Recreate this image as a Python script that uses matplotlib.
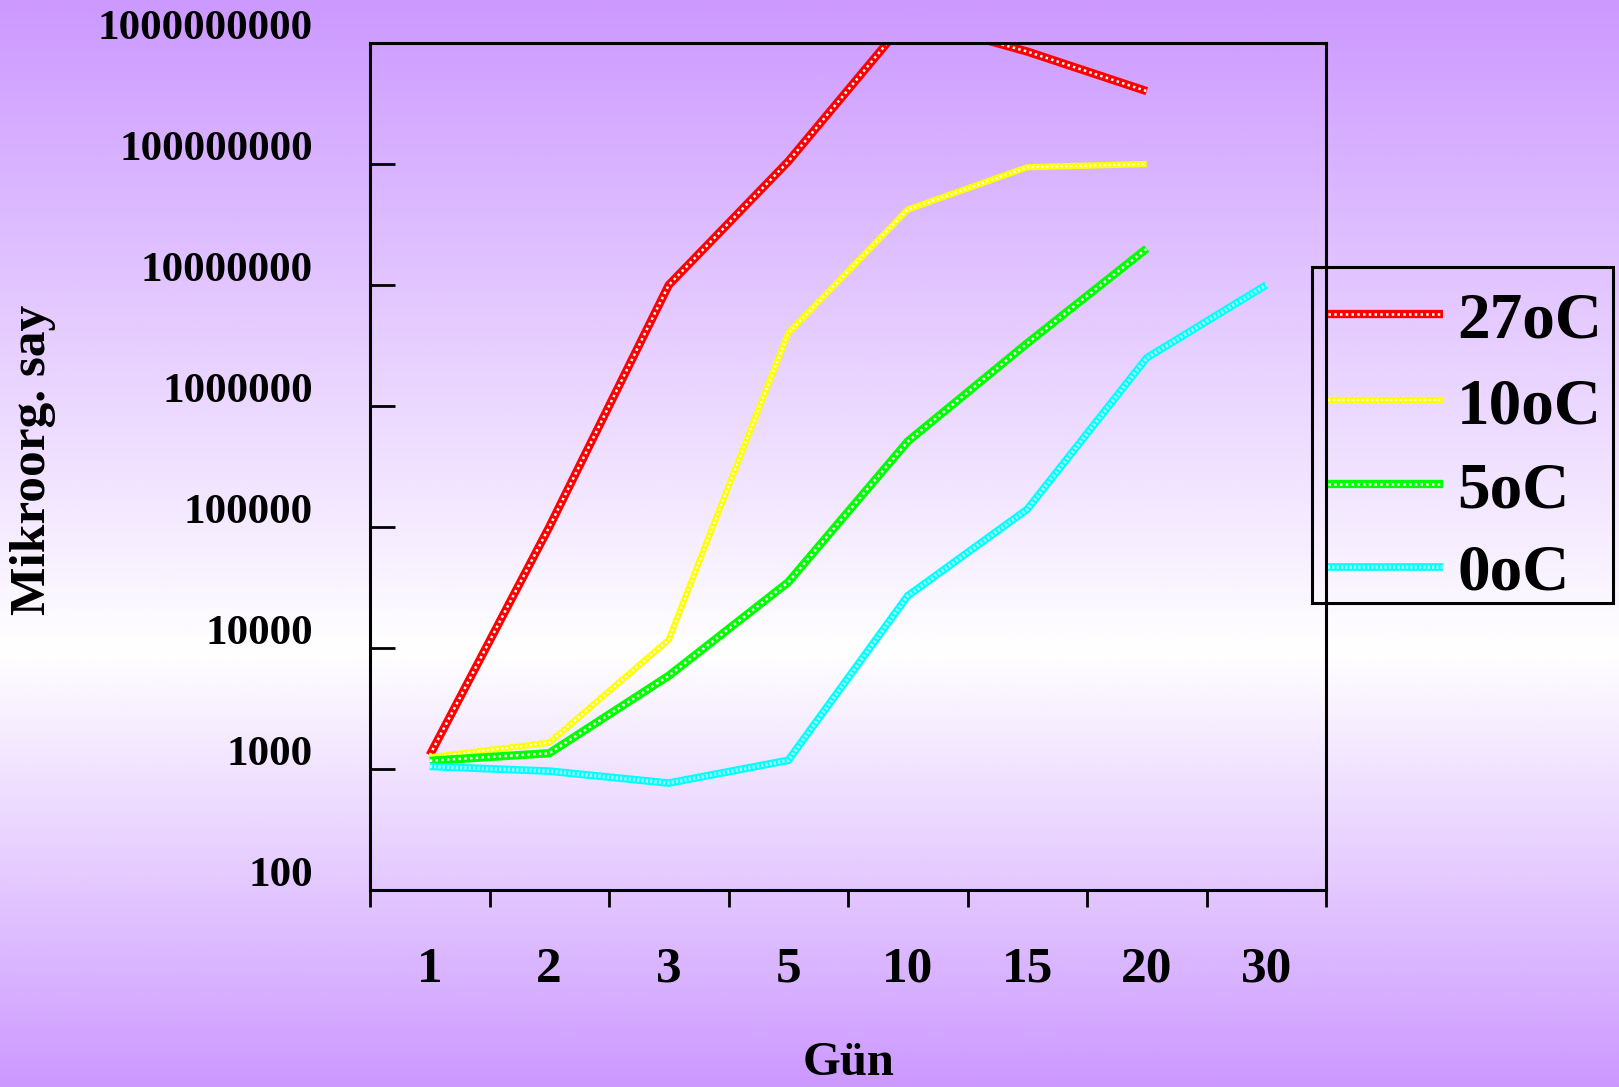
import numpy as np
import matplotlib
matplotlib.use('Agg')
import matplotlib.pyplot as plt
from matplotlib.transforms import blended_transform_factory, ScaledTranslation
from matplotlib.colors import LinearSegmentedColormap
from matplotlib.patches import Rectangle
from matplotlib.lines import Line2D

plt.rcParams['font.family'] = ['Liberation Serif', 'DejaVu Serif']
plt.rcParams['font.weight'] = 'bold'

# data
days = ['1', '2', '3', '5', '10', '15', '20', '30']
t27 = [1300, 1.0e5, 1.0e7, 1.05e8, 1.6e9, 8.5e8, 4.0e8]
t10 = [1250, 1650, 1.17e4, 4.0e6, 4.2e7, 9.4e7, 1.0e8]
t5 = [1170, 1350, 5900, 3.5e4, 5.1e5, 3.3e6, 2.0e7]
t0 = [1050, 960, 765, 1180, 2.7e4, 1.4e5, 2.5e6, 1.0e7]
labels = ['27oC', '10oC', '5oC', '0oC']
colors = ['#ff0000', '#ffff00', '#00ff00', '#00ffff']
ytick_vals = [1e2, 1e3, 1e4, 1e5, 1e6, 1e7, 1e8, 1e9]
ytick_txt = ['100', '1000', '10000', '100000', '1000000', '10000000',
             '100000000', '1000000000']

W, H = 1619, 1087
fig = plt.figure(figsize=(W / 100, H / 100), dpi=100)

# gradient background purple -> white -> purple
bg = fig.add_axes([0, 0, 1, 1], zorder=-10)
cmap = LinearSegmentedColormap.from_list(
    'bg', [(0.0, '#cc99ff'), (0.6, '#ffffff'), (1.0, '#cc99ff')])
grad = np.linspace(0, 1, 512).reshape(-1, 1)
bg.imshow(grad, aspect='auto', cmap=cmap, extent=[0, 1, 1, 0])
bg.set_axis_off()

ax = fig.add_axes([370 / W, 1 - 890 / H, 956 / W, 847 / H])
ax.patch.set_alpha(0)
ax.set_yscale('log')
ax.set_ylim(100, 1e9)
ax.set_xlim(0.5, 8.5)

widths = [6.0, 4.5, 6.0, 5.5]
dots = [(1.0, 1.3), (1.0, 1.3), (1.0, 1.3), (0.6, 0.6)]
dot_w = [1.8, 1.5, 1.8, 2.6]
dot_a = [1.0, 1.0, 1.0, 0.65]


def hatched(axis, x, y, i, **kw):
    axis.plot(x, y, color=colors[i], lw=widths[i], solid_capstyle='butt',
              solid_joinstyle='miter', **kw)
    axis.plot(x, y, color='white', lw=dot_w[i], dashes=dots[i], alpha=dot_a[i],
              dash_capstyle='butt', **kw)


for i, s in enumerate([t27, t10, t5, t0]):
    xs = np.arange(1, len(s) + 1)
    hatched(ax, xs, s, i)

for sp in ax.spines.values():
    sp.set_linewidth(2.2)

ax.set_xticks(np.arange(0.5, 9.0, 1.0))
ax.set_xticklabels([])
ax.tick_params(axis='x', direction='out', length=12, width=2)
ax.set_yticks(ytick_vals)
ax.set_yticklabels([])
ax.yaxis.set_minor_locator(matplotlib.ticker.NullLocator())
ax.tick_params(axis='y', direction='in', length=18, width=2)

# tick labels drawn as text
ytr = blended_transform_factory(ax.transAxes, ax.transData) + \
    ScaledTranslation(0, 0.04, fig.dpi_scale_trans)
for v, t in zip(ytick_vals, ytick_txt):
    ax.text((313 - 370) / 956, v, t, transform=ytr, ha='right', va='baseline',
            fontsize=31, fontweight='bold', clip_on=False)

xtr = blended_transform_factory(ax.transData, ax.transAxes)
for i, d in enumerate(days):
    ax.text(i + 1, -80 / 847, d, transform=xtr, ha='center', va='center',
            fontsize=37, fontweight='bold', clip_on=False)

fig.text(33 / W, 1 - 460 / H, 'Mikroorg. say', rotation=90, ha='center',
         va='center', fontsize=37, fontweight='bold')
fig.text(849 / W, 1 - 1063 / H, 'Gün', ha='center', va='center',
         fontsize=35, fontweight='bold')

# legend box
fig.patches.append(Rectangle((1312 / W, 1 - 603 / H), 301 / W, 336 / H,
                             transform=fig.transFigure, fill=False,
                             edgecolor='black', lw=2.2))
leg_y = [314, 400, 484, 567]
for i, (lab, ly) in enumerate(zip(labels, leg_y)):
    yy = 1 - ly / H
    fig.add_artist(Line2D([1328 / W, 1443 / W], [yy, yy], color=colors[i],
                          lw=widths[i], solid_capstyle='butt',
                          transform=fig.transFigure))
    fig.add_artist(Line2D([1328 / W, 1443 / W], [yy, yy], color='white',
                          lw=dot_w[i], dashes=dots[i], alpha=dot_a[i],
                          transform=fig.transFigure))
    fig.text(1457 / W, 1 - (ly + 23) / H, lab, ha='left', va='baseline',
             fontsize=47, fontweight='bold')

fig.savefig('out.png', dpi=100)
